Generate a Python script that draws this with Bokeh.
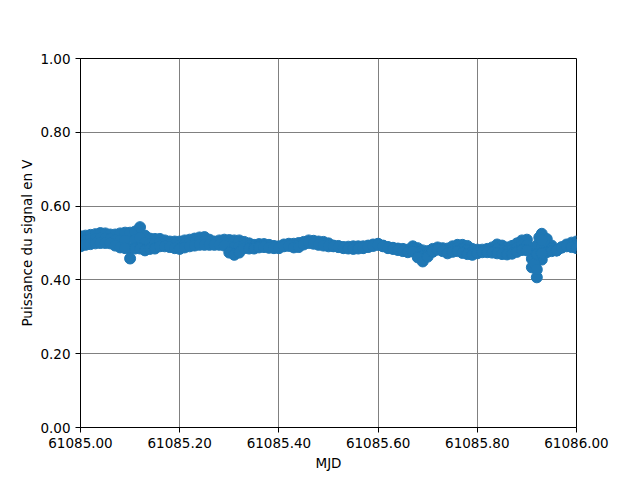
from bokeh.plotting import figure
from bokeh.models import FixedTicker, PrintfTickFormatter, Range1d
from bokeh.embed import file_html
from bokeh.resources import INLINE

# MJD sample times
mjd = [61085.00, 61085.01, 61085.02, 61085.03, 61085.04, 61085.05, 61085.06, 61085.07, 61085.08, 61085.09,
       61085.10, 61085.11, 61085.12, 61085.13, 61085.14, 61085.15, 61085.16, 61085.17, 61085.18, 61085.19,
       61085.20, 61085.21, 61085.22, 61085.23, 61085.24, 61085.25, 61085.26, 61085.27, 61085.28, 61085.29,
       61085.30, 61085.31, 61085.32, 61085.33, 61085.34, 61085.35, 61085.36, 61085.37, 61085.38, 61085.39,
       61085.40, 61085.41, 61085.42, 61085.43, 61085.44, 61085.45, 61085.46, 61085.47, 61085.48, 61085.49,
       61085.50, 61085.51, 61085.52, 61085.53, 61085.54, 61085.55, 61085.56, 61085.57, 61085.58, 61085.59,
       61085.60, 61085.61, 61085.62, 61085.63, 61085.64, 61085.65, 61085.66, 61085.67, 61085.68, 61085.69,
       61085.70, 61085.71, 61085.72, 61085.73, 61085.74, 61085.75, 61085.76, 61085.77, 61085.78, 61085.79,
       61085.80, 61085.81, 61085.82, 61085.83, 61085.84, 61085.85, 61085.86, 61085.87, 61085.88, 61085.89,
       61085.90, 61085.91, 61085.92, 61085.93, 61085.94, 61085.95, 61085.96, 61085.97, 61085.98, 61085.99,
       61086.00]

# upper readings of the signal (V)
signal_a = [0.518, 0.520, 0.522, 0.524, 0.527, 0.526, 0.523, 0.523, 0.526, 0.528,
            0.528, 0.531, 0.543, 0.520, 0.512, 0.511, 0.511, 0.507, 0.504, 0.504,
            0.504, 0.507, 0.509, 0.512, 0.515, 0.516, 0.509, 0.504, 0.507, 0.509,
            0.508, 0.507, 0.507, 0.503, 0.499, 0.495, 0.497, 0.497, 0.495, 0.492,
            0.491, 0.496, 0.498, 0.498, 0.500, 0.503, 0.507, 0.506, 0.504, 0.503,
            0.499, 0.493, 0.492, 0.489, 0.490, 0.491, 0.491, 0.491, 0.493, 0.496,
            0.498, 0.493, 0.489, 0.487, 0.485, 0.484, 0.482, 0.491, 0.486, 0.480,
            0.478, 0.484, 0.488, 0.486, 0.485, 0.491, 0.495, 0.495, 0.492, 0.484,
            0.482, 0.482, 0.484, 0.488, 0.496, 0.493, 0.488, 0.492, 0.499, 0.507,
            0.509, 0.480, 0.493, 0.525, 0.511, 0.493, 0.480, 0.488, 0.496, 0.501,
            0.504]

# middle readings of the signal (V)
signal_c = [0.505, 0.507, 0.510, 0.511, 0.513, 0.513, 0.511, 0.508, 0.507, 0.507,
            0.485, 0.508, 0.514, 0.500, 0.498, 0.498, 0.501, 0.499, 0.496, 0.495,
            0.494, 0.497, 0.500, 0.502, 0.505, 0.505, 0.502, 0.500, 0.501, 0.501,
            0.491, 0.488, 0.490, 0.494, 0.492, 0.490, 0.492, 0.493, 0.491, 0.489,
            0.488, 0.493, 0.495, 0.493, 0.494, 0.500, 0.503, 0.502, 0.500, 0.498,
            0.495, 0.492, 0.490, 0.488, 0.487, 0.488, 0.488, 0.488, 0.491, 0.494,
            0.496, 0.492, 0.488, 0.485, 0.483, 0.481, 0.478, 0.484, 0.473, 0.465,
            0.470, 0.480, 0.485, 0.482, 0.478, 0.483, 0.486, 0.484, 0.481, 0.476,
            0.477, 0.478, 0.480, 0.481, 0.484, 0.481, 0.478, 0.481, 0.487, 0.494,
            0.494, 0.457, 0.450, 0.490, 0.493, 0.485, 0.480, 0.488, 0.493, 0.495,
            0.495]

# lower readings of the signal (V)
signal_b = [0.491, 0.495, 0.497, 0.499, 0.500, 0.500, 0.499, 0.493, 0.488, 0.486,
            0.458, 0.485, 0.485, 0.480, 0.484, 0.485, 0.491, 0.491, 0.489, 0.486,
            0.484, 0.488, 0.491, 0.493, 0.495, 0.495, 0.495, 0.495, 0.495, 0.493,
            0.474, 0.468, 0.474, 0.486, 0.485, 0.485, 0.488, 0.489, 0.487, 0.486,
            0.486, 0.491, 0.492, 0.488, 0.489, 0.496, 0.500, 0.498, 0.495, 0.493,
            0.491, 0.491, 0.489, 0.486, 0.485, 0.484, 0.485, 0.486, 0.489, 0.492,
            0.495, 0.491, 0.486, 0.484, 0.481, 0.478, 0.475, 0.477, 0.461, 0.450,
            0.463, 0.476, 0.482, 0.478, 0.472, 0.476, 0.478, 0.473, 0.470, 0.468,
            0.472, 0.475, 0.475, 0.474, 0.472, 0.470, 0.469, 0.471, 0.476, 0.481,
            0.480, 0.434, 0.407, 0.455, 0.475, 0.478, 0.480, 0.488, 0.491, 0.489,
            0.486]

# extra readings inside the drop near MJD 61085.92
drop_mjd = [61085.915, 61085.920, 61085.920, 61085.925, 61085.930, 61085.930]
drop_signal = [0.445, 0.470, 0.428, 0.515, 0.508, 0.472]

x_ticks = [61085.0, 61085.2, 61085.4, 61085.6, 61085.8, 61086.0]
y_ticks = [0.0, 0.2, 0.4, 0.6, 0.8, 1.0]

FONT = "DejaVu Sans"

p = figure(width=640, height=480, output_backend="svg", toolbar_location=None,
           x_range=Range1d(61085.0, 61086.0), y_range=Range1d(0.0, 1.0),
           min_border_left=80, min_border_right=64, min_border_top=58, min_border_bottom=53)

xs = mjd + mjd + mjd + drop_mjd
ys = signal_a + signal_c + signal_b + drop_signal
p.scatter(xs, ys, size=11, fill_color="#1f77b4", line_color="#1f77b4", line_width=1)

p.outline_line_color = "black"
p.outline_line_width = 1

for ax, ticks in ((p.xaxis, x_ticks), (p.yaxis, y_ticks)):
    ax.ticker = FixedTicker(ticks=ticks)
    ax.formatter = PrintfTickFormatter(format="%.2f")
    ax.major_label_text_font = FONT
    ax.major_label_text_font_size = "13.5px"
    ax.major_label_text_color = "black"
    ax.axis_label_text_font = FONT
    ax.axis_label_text_font_size = "13.5px"
    ax.axis_label_text_font_style = "normal"
    ax.axis_label_text_color = "black"
    ax.major_tick_out = 5
    ax.major_tick_in = 0
    ax.minor_tick_out = 0
    ax.minor_tick_in = 0
    ax.axis_line_color = "black"
    ax.major_tick_line_color = "black"

p.xaxis.axis_label = "MJD"
p.yaxis.axis_label = "Puissance du signal en V"
p.xaxis.axis_label_standoff = 4
p.yaxis.axis_label_standoff = 2

p.grid.grid_line_color = "#808080"
p.grid.grid_line_width = 1

open("out.html", "w").write(file_html(p, INLINE))
